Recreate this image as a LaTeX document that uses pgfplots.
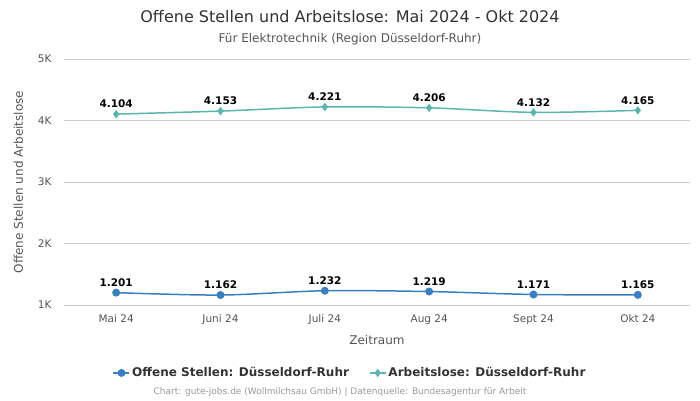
\documentclass[border=0pt]{standalone}
\usepackage{pgfplots}
\pgfplotsset{compat=1.18}
\usepackage{fontspec}
\setmainfont{DejaVu Sans}
\definecolor{cblue}{HTML}{3A7FBF}
\definecolor{cteal}{HTML}{5BB5AE}
\definecolor{tgray}{HTML}{555555}
\begin{document}
\begin{tikzpicture}[x=1pt,y=1pt]
\begin{axis}[
  name=ax, at={(0,0)}, anchor=south west,
  scale only axis, width=626pt, height=246pt,
  xmin=-0.5, xmax=5.5, ymin=1000, ymax=5000,
  xtick={0,1,2,3,4,5},
  xticklabels={Mai 24,Juni 24,Juli 24,Aug 24,Sept 24,Okt 24},
  ytick={1000,2000,3000,4000,5000},
  yticklabels={1K,2K,3K,4K,5K},
  ymajorgrids, grid style={draw=black!20, line width=0.6pt},
  axis line style={draw=none},
  major tick length=0pt,
  tick label style={font=\fontsize{10.5}{12}\selectfont, text=tgray},
  xticklabel style={yshift=-6pt},
  yticklabel style={xshift=-9pt},
  xlabel={Zeitraum}, ylabel={Offene Stellen und Arbeitslose},
  label style={font=\fontsize{12}{14}\selectfont, text=tgray},
  xlabel style={yshift=-4pt},
  ylabel style={yshift=8pt},
  clip=false,
  nodes near coords, point meta=explicit symbolic,
  every node near coord/.style={font=\bfseries\fontsize{10.5}{12}\selectfont, text=black, anchor=south, yshift=2pt},
  legend style={at={(0.457,-0.276)}, anchor=center, draw=none, fill=none,
    font=\bfseries\fontsize{12}{14}\selectfont, text=black!80,
    /tikz/every even column/.append style={column sep=18pt}},
  legend columns=2,
  legend image code/.code={\draw[#1] (2pt,0pt) -- (18pt,0pt); \draw[#1, mark repeat=1] plot coordinates {(10pt,0pt)};},
]
\addplot[cblue, line width=1.5pt, smooth, mark=*, mark size=3.2pt, mark options={fill=cblue, draw=cblue}]
  coordinates {(0,1201) [1.201] (1,1162) [1.162] (2,1232) [1.232] (3,1219) [1.219] (4,1171) [1.171] (5,1165) [1.165]};
\addlegendentry{Offene Stellen: Düsseldorf-Ruhr}
\addplot[cteal, line width=1.5pt, smooth, mark=diamond*, mark size=3pt, mark options={fill=cteal, draw=cteal}]
  coordinates {(0,4104) [4.104] (1,4153) [4.153] (2,4221) [4.221] (3,4206) [4.206] (4,4132) [4.132] (5,4165) [4.165]};
\addlegendentry{Arbeitslose: Düsseldorf-Ruhr}
\end{axis}
\path (-64,-95) rectangle (636,305);
\node[font=\fontsize{16}{18}\selectfont, text=black!80] at (286,288) {Offene Stellen und Arbeitslose: Mai 2024 - Okt 2024};
\node[font=\fontsize{12}{14}\selectfont, text=tgray] at (286,266) {Für Elektrotechnik (Region Düsseldorf-Ruhr)};
\node[font=\fontsize{9}{11}\selectfont, text=black!40] at (276,-87) {Chart: gute-jobs.de (Wollmilchsau GmbH) | Datenquelle: Bundesagentur für Arbeit};
\end{tikzpicture}
\end{document}
